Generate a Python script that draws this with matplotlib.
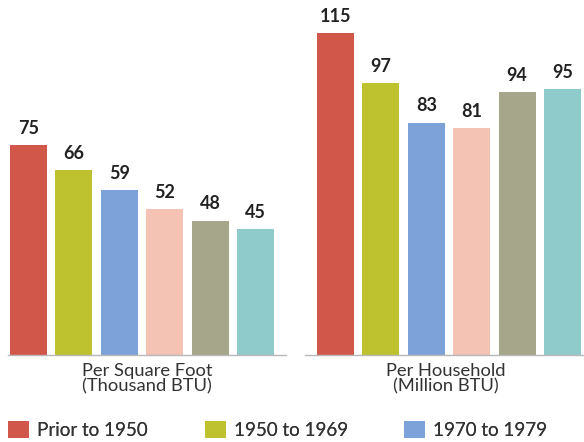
import matplotlib
matplotlib.use("Agg")
import matplotlib.pyplot as plt
from matplotlib.patches import Patch

plt.rcParams['font.family'] = ['Lato', 'DejaVu Sans']

periods = ["Prior to 1950", "1950 to 1969", "1970 to 1979", "1980 to 1989", "1990 to 1999", "2000 to 2009"]
per_sqft = [75, 66, 59, 52, 48, 45]
per_household = [115, 97, 83, 81, 94, 95]
group_labels = ["Per Square Foot\n(Thousand BTU)", "Per Household\n(Million BTU)"]
colors = ["#D1574A", "#BEC22F", "#7CA2D9", "#F4C3B3", "#A5A68A", "#8FCBCB"]
legend_shown = 3

W, H = 584, 442
fig = plt.figure(figsize=(W / 100, H / 100), dpi=100)

base_y = 355
top_val = base_y / 2.8

def make_axes(x0, x1):
    return fig.add_axes([x0 / W, (H - base_y) / H, (x1 - x0) / W, base_y / H])

ax1 = make_axes(8, 286)
ax2 = make_axes(305, 586)
ppu = 45.4
ax1.set_xlim(-20.5 / ppu, -20.5 / ppu + 278 / ppu)
ax2.set_xlim(-30.5 / ppu, -30.5 / ppu + 281 / ppu)

for ax, vals, lab in [(ax1, per_sqft, group_labels[0]), (ax2, per_household, group_labels[1])]:
    xs = list(range(len(vals)))
    bars = ax.bar(xs, vals, width=37 / ppu, color=colors)
    ax.set_ylim(0, top_val)
    for b, v in zip(bars, vals):
        ax.annotate(str(v), (b.get_x() + b.get_width() / 2, v), xytext=(0, 8),
                    textcoords='offset points', ha='center', va='baseline',
                    fontsize=13, fontweight='bold', color='#222222')
    for s in ['top', 'right', 'left']:
        ax.spines[s].set_visible(False)
    ax.spines['bottom'].set_color('#B8B8B8')
    ax.spines['bottom'].set_linewidth(1.0)
    ax.set_yticks([])
    ax.set_xticks([])
    ax.set_xlabel(lab, fontsize=13.2, color='#333333', labelpad=6, linespacing=0.9)

leg_x = [8, 205, 404]
for i in range(legend_shown):
    h = Patch(facecolor=colors[i], edgecolor='none')
    lg = fig.legend([h], [periods[i]], loc='center left',
                    bbox_to_anchor=(leg_x[i] / W, 1 - 430 / H),
                    frameon=False, fontsize=13.5, handlelength=1.12, handleheight=1.0,
                    handletextpad=0.42, borderpad=0, borderaxespad=0,
                    labelcolor='#333333')
    fig.add_artist(lg)

fig.savefig("out.png", dpi=100)
